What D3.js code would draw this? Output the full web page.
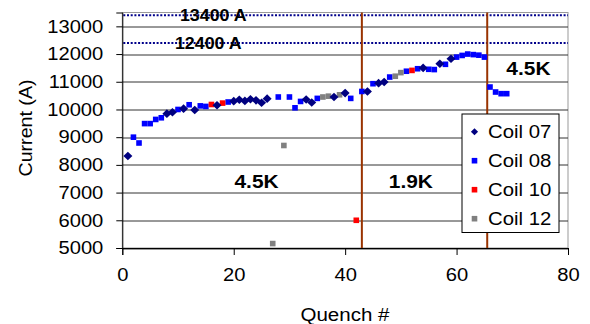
<!DOCTYPE html>
<html>
<head>
<meta charset="utf-8">
<script src="https://cdn.jsdelivr.net/npm/d3@7"></script>
<style>
  body { margin: 0; background: #fff; }
  text { font-family: "Liberation Sans", Arial, sans-serif; fill: #000; }
</style>
</head>
<body>
<script>
// quench number, current (A)
var coil07 = [[1,8320],[8,9850],[9,9900],[11,10030],[13,9980],[17,10150],[20,10300],[21,10350],[22,10310],[23,10370],[24,10330],[25,10240],[26,10390],[33,10360],[34,10250],[38,10450],[40,10590],[44,10650],[46,10950],[47,10990],[54,11500],[57,11650],[59,11830]];
var coil08 = [[2,9000],[3,8790],[4,9490],[5,9490],[6,9640],[7,9700],[10,10000],[12,10170],[14,10130],[15,10110],[19,10270],[28,10450],[30,10450],[31,10060],[32,10290],[35,10400],[41,10400],[43,10650],[45,10930],[48,11170],[51,11380],[53,11470],[55,11450],[56,11440],[58,11630],[60,11890],[61,11950],[62,12000],[63,11980],[64,11960],[65,11890],[66,10810],[67,10630],[68,10570],[69,10570]];
var coil10 = [[16,10180],[18,10230],[42,6000],[52,11410]];
var coil12 = [[27,5160],[29,8700],[36,10450],[37,10480],[39,10530],[49,11200],[50,11330]];

var xTicks = [0, 20, 40, 60, 80];
var yTicks = [5000, 6000, 7000, 8000, 9000, 10000, 11000, 12000, 13000];
var limits = [13400, 12400];
var limitLabels = ["13400 A", "12400 A"];
var tempChanges = [43, 65.5];
var tempLabels = [{t: "4.5K", x: 24.1, y: 7430}, {t: "1.9K", x: 51.8, y: 7430}, {t: "4.5K", x: 72.9, y: 11480}];

var margin = { top: 12.5, right: 22, bottom: 76, left: 122.3 }
    , width = 590 - margin.left - margin.right
    , height = 324 - margin.top - margin.bottom;

var svg = d3.select("body").append("svg")
    .attr("width", 590)
    .attr("height", 324);
var g = svg.append("g")
    .attr("transform", "translate(" + margin.left + "," + margin.top + ")");

var x = d3.scaleLinear().domain([0, 80]).range([0, width]);
var y = d3.scaleLinear().domain([5000, 13500]).range([height, 0]);

// text in the original is a bit wider than Arial
function stretch(sel, k) {
    sel.each(function () {
        var w = this.getComputedTextLength();
        d3.select(this).attr("textLength", w * k).attr("lengthAdjust", "spacingAndGlyphs");
    });
}

// frame
g.append("rect").attr("width", width).attr("height", height)
    .attr("fill", "none").attr("stroke", "#999").attr("stroke-width", 1);

// gridlines
g.selectAll(".grid").data(yTicks).enter().append("line")
    .attr("x1", 0).attr("x2", width)
    .attr("y1", function (d) { return Math.round(y(d)) + 0.5; })
    .attr("y2", function (d) { return Math.round(y(d)) + 0.5; })
    .attr("stroke", "#333").attr("stroke-width", 1);

// limit lines
g.selectAll(".limit").data(limits).enter().append("line")
    .attr("x1", 1).attr("x2", width)
    .attr("y1", function (d) { return y(d); })
    .attr("y2", function (d) { return y(d); })
    .attr("stroke", "#00008b").attr("stroke-width", 2)
    .attr("stroke-dasharray", "2,1.7");

// temperature change lines
g.selectAll(".vline").data(tempChanges).enter().append("line")
    .attr("x1", function (d) { return x(d); })
    .attr("x2", function (d) { return x(d); })
    .attr("y1", 0).attr("y2", height)
    .attr("stroke", "#993300").attr("stroke-width", 2);

// axes
var yAxis = g.append("g")
    .call(d3.axisLeft(y).tickValues(yTicks).tickSize(6).tickPadding(13).tickFormat(d3.format("d")));
var xAxis = g.append("g")
    .attr("transform", "translate(0," + height + ")")
    .call(d3.axisBottom(x).tickValues(xTicks).tickSize(7).tickPadding(13));
[yAxis, xAxis].forEach(function (a) {
    a.select(".domain").attr("stroke", "#000");
    a.selectAll(".tick line").attr("stroke", "#000");
    a.selectAll("text").attr("font-size", "18px").attr("font-family", "Liberation Sans, Arial, sans-serif");
});
stretch(yAxis.selectAll("text"), 1.12);
stretch(xAxis.selectAll("text"), 1.12);

// points
var diamond = "M0,-4.3L4.5,0L0,4.3L-4.5,0Z";
function squares(data, color) {
    g.append("g").selectAll("rect").data(data).enter().append("rect")
        .attr("x", function (d) { return x(d[0]) - 2.8; })
        .attr("y", function (d) { return y(d[1]) - 2.8; })
        .attr("width", 5.6).attr("height", 5.6)
        .attr("fill", color);
}
squares(coil08, "#0000ff");
squares(coil12, "#808080");
squares(coil10, "#ff0000");
g.append("g").selectAll("path").data(coil07).enter().append("path")
    .attr("d", diamond)
    .attr("transform", function (d) { return "translate(" + x(d[0]) + "," + y(d[1]) + ")"; })
    .attr("fill", "#000080");

// labels
var lim = g.selectAll(".limtxt").data(limits).enter().append("text")
    .attr("x", function (d, i) { return i == 0 ? 91 : 86; })
    .attr("y", function (d) { return y(d) + 6; })
    .attr("text-anchor", "middle")
    .attr("font-size", "16.5px").attr("font-weight", "bold")
    .text(function (d, i) { return limitLabels[i]; });
stretch(lim, 1.08);

var tl = g.selectAll(".temptxt").data(tempLabels).enter().append("text")
    .attr("x", function (d) { return x(d.x); })
    .attr("y", function (d) { return y(d.y) + 7; })
    .attr("text-anchor", "middle")
    .attr("font-size", "19px").attr("font-weight", "bold")
    .text(function (d) { return d.t; });
stretch(tl, 1.1);

// legend
var names = ["Coil 07", "Coil 08", "Coil 10", "Coil 12"];
var colors = ["#000080", "#0000ff", "#ff0000", "#808080"];
var legend = svg.append("g").attr("transform", "translate(462,114)");
legend.append("rect").attr("width", 97).attr("height", 118.5)
    .attr("fill", "#fff").attr("stroke", "#000").attr("stroke-width", 1);
var items = legend.selectAll(".item").data(names).enter().append("g")
    .attr("transform", function (d, i) { return "translate(0," + (17.7 + i * 29) + ")"; });
items.append("path")
    .attr("d", function (d, i) { return i == 0 ? "M0,-3.5L3.6,0L0,3.5L-3.6,0Z" : "M-2.8,-2.8h5.6v5.6h-5.6Z"; })
    .attr("transform", "translate(12.5,0)")
    .attr("fill", function (d, i) { return colors[i]; });
var lt = items.append("text").attr("x", 26).attr("y", 6.5)
    .attr("font-size", "18px").text(function (d) { return d; });
stretch(lt, 1.13);

// axis titles
var xt = svg.append("text").attr("x", 345).attr("y", 321)
    .attr("text-anchor", "middle").attr("font-size", "18px").text("Quench #");
stretch(xt, 1.14);
svg.append("text").attr("transform", "translate(32,128) rotate(-90)")
    .attr("text-anchor", "middle").attr("font-size", "18px")
    .attr("textLength", 97).attr("lengthAdjust", "spacingAndGlyphs")
    .text("Current (A)");
</script>
</body>
</html>
